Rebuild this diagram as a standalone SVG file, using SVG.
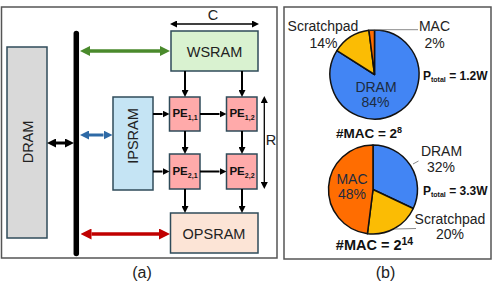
<svg xmlns="http://www.w3.org/2000/svg" width="498" height="295" viewBox="0 0 498 295">
<style>
text{font-family:"Liberation Sans",Arial,sans-serif;fill:#222}
.box{stroke:#2f4b5a;stroke-width:1.5}
.lbl{font-size:14.5px;text-anchor:middle}
.pe{font-size:11.5px;font-weight:bold;text-anchor:middle;fill:#111}
.sub{font-size:7px}
.pl{font-size:14px;text-anchor:middle}
.pin{font-size:14px;text-anchor:middle;fill:#1c2b40}
.pt{font-size:12px;font-weight:bold;fill:#111}
.mac{font-weight:bold;text-anchor:middle;fill:#111}
.wedge{stroke:#111;stroke-width:1.5;stroke-linejoin:round}
.lead{stroke:#8a8a8a;stroke-width:1;fill:none}
.panel{fill:#fff;stroke:#555;stroke-width:1.5}
</style>
<defs>
<marker id="hk" viewBox="0 0 10 10" refX="0" refY="5" markerWidth="7" markerHeight="7" markerUnits="userSpaceOnUse" orient="auto-start-reverse"><path d="M0,0L10,5L0,10z" fill="#000"/></marker>
<marker id="hkb" viewBox="0 0 10 10" refX="0" refY="5" markerWidth="9" markerHeight="9" markerUnits="userSpaceOnUse" orient="auto-start-reverse"><path d="M0,0L10,5L0,10z" fill="#000"/></marker>
<marker id="hg" viewBox="0 0 10 10" refX="0" refY="5" markerWidth="10" markerHeight="10" markerUnits="userSpaceOnUse" orient="auto-start-reverse"><path d="M0,0L10,5L0,10z" fill="#4a8a2c"/></marker>
<marker id="hb" viewBox="0 0 10 10" refX="0" refY="5" markerWidth="9" markerHeight="9" markerUnits="userSpaceOnUse" orient="auto-start-reverse"><path d="M0,0L10,5L0,10z" fill="#2e6aa6"/></marker>
<marker id="hr" viewBox="0 0 10 10" refX="0" refY="5" markerWidth="11" markerHeight="11" markerUnits="userSpaceOnUse" orient="auto-start-reverse"><path d="M0,0L10,5L0,10z" fill="#c00000"/></marker>
</defs>
<rect width="498" height="295" fill="#fff"/>
<rect class="panel" x="1.5" y="7" width="275.5" height="251"/>
<rect class="panel" x="284" y="7" width="207" height="252"/>

<g id="dram"><rect class="box" x="7" y="47" width="40" height="191" fill="#d9d9d9"/><text class="lbl" transform="translate(33,142) rotate(-90)">DRAM</text></g>
<g id="bus"><line x1="76.3" y1="33.5" x2="76.3" y2="253.5" stroke="#000" stroke-width="5.5" stroke-linecap="round"/></g>
<g id="wsram"><rect class="box" x="171" y="31" width="87" height="40" fill="#d9f2d0"/><text class="lbl" x="214.5" y="56.5">WSRAM</text></g>
<g id="ipsram"><rect class="box" x="113" y="97" width="40" height="93" fill="#c5e4f4"/><text class="lbl" transform="translate(137.5,136) rotate(-90)">IPSRAM</text></g>
<g id="pe11"><rect class="box" x="169.5" y="97" width="30.5" height="34" fill="#ffaaaa"/><text class="pe" x="185" y="117">PE<tspan class="sub" dy="2.5">1,1</tspan></text></g>
<g id="pe12"><rect class="box" x="226.5" y="97" width="30.5" height="34" fill="#ffaaaa"/><text class="pe" x="242" y="117">PE<tspan class="sub" dy="2.5">1,2</tspan></text></g>
<g id="pe21"><rect class="box" x="169.5" y="154" width="30.5" height="35" fill="#ffaaaa"/><text class="pe" x="185" y="175">PE<tspan class="sub" dy="2.5">2,1</tspan></text></g>
<g id="pe22"><rect class="box" x="226.5" y="154" width="30.5" height="35" fill="#ffaaaa"/><text class="pe" x="242" y="175">PE<tspan class="sub" dy="2.5">2,2</tspan></text></g>
<g id="opsram"><rect class="box" x="170.5" y="213" width="87.5" height="40" fill="#fce4d6"/><text class="lbl" x="214" y="238.5">OPSRAM</text></g>

<g id="connectors">
<line x1="56" y1="143" x2="65" y2="143" stroke="#000" stroke-width="3" marker-start="url(#hkb)" marker-end="url(#hkb)"/>
<line x1="90" y1="51" x2="160" y2="51" stroke="#4a8a2c" stroke-width="3.5" marker-start="url(#hg)" marker-end="url(#hg)"/>
<line x1="89" y1="135" x2="103.5" y2="135" stroke="#2e6aa6" stroke-width="3" marker-start="url(#hb)" marker-end="url(#hb)"/>
<line x1="91.5" y1="234" x2="159" y2="234" stroke="#c00000" stroke-width="3.5" marker-start="url(#hr)" marker-end="url(#hr)"/>
<g stroke="#000" stroke-width="2">
<line x1="185" y1="71" x2="185" y2="90" marker-end="url(#hk)"/>
<line x1="242" y1="71" x2="242" y2="90" marker-end="url(#hk)"/>
<line x1="185" y1="131" x2="185" y2="147" marker-end="url(#hk)"/>
<line x1="242" y1="131" x2="242" y2="147" marker-end="url(#hk)"/>
<line x1="185" y1="189" x2="185" y2="206" marker-end="url(#hk)"/>
<line x1="242" y1="189" x2="242" y2="206" marker-end="url(#hk)"/>
<line x1="153" y1="114" x2="162.5" y2="114" marker-end="url(#hk)"/>
<line x1="200" y1="114" x2="219.5" y2="114" marker-end="url(#hk)"/>
<line x1="153" y1="171.5" x2="162.5" y2="171.5" marker-end="url(#hk)"/>
<line x1="200" y1="171.5" x2="219.5" y2="171.5" marker-end="url(#hk)"/>
</g>
<g stroke="#000" stroke-width="1.3">
<line x1="177" y1="24" x2="252" y2="24" marker-start="url(#hk)" marker-end="url(#hk)"/>
<line x1="264.3" y1="103" x2="264.3" y2="182" marker-start="url(#hk)" marker-end="url(#hk)"/>
</g>
</g>
<text class="lbl" x="213" y="19.5">C</text>
<text class="lbl" x="271" y="145">R</text>

<g id="pie1">
<path class="wedge" d="M374.5,74.5L374.5,30A44.5,44.5 0 1 1 336.93,50.66Z" fill="#4285f4"/>
<path class="wedge" d="M374.5,74.5L336.93,50.66A44.5,44.5 0 0 1 368.92,30.35Z" fill="#fbbc04"/>
<path class="wedge" d="M374.5,74.5L368.92,30.35A44.5,44.5 0 0 1 374.5,30Z" fill="#ff6d01"/>
<line class="lead" x1="369" y1="29.7" x2="418" y2="29.7"/>
<text class="pl" x="323" y="31">Scratchpad</text>
<text class="pl" x="323.5" y="48">14%</text>
<text class="pl" x="434.5" y="31">MAC</text>
<text class="pl" x="434.5" y="48">2%</text>
<text class="pin" x="376" y="92">DRAM</text>
<text class="pin" x="375.5" y="107">84%</text>
<text class="pt" x="423" y="80">P<tspan font-size="7" dy="2">total</tspan><tspan dy="-2"> = 1.2W</tspan></text>
<text class="mac" x="369" y="138" font-size="13.5">#MAC = 2<tspan font-size="9" dy="-5">8</tspan></text>
</g>

<g id="pie2">
<path class="wedge" d="M373,189.5L373,145A44.5,44.5 0 0 1 413.26,208.45Z" fill="#4285f4"/>
<path class="wedge" d="M373,189.5L413.26,208.45A44.5,44.5 0 0 1 367.42,233.65Z" fill="#fbbc04"/>
<path class="wedge" d="M373,189.5L367.42,233.65A44.5,44.5 0 0 1 373,145Z" fill="#ff6d01"/>
<line class="lead" x1="413" y1="164" x2="418.5" y2="161"/>
<line class="lead" x1="395" y1="229" x2="416" y2="228.5"/>
<text class="pl" x="441.5" y="156">DRAM</text>
<text class="pl" x="441" y="171.5">32%</text>
<text class="pl" x="450" y="223.5">Scratchpad</text>
<text class="pl" x="450" y="239">20%</text>
<text class="pin" x="352" y="183.5">MAC</text>
<text class="pin" x="352" y="199">48%</text>
<text class="pt" x="423" y="194.5">P<tspan font-size="7" dy="2">total</tspan><tspan dy="-2"> = 3.3W</tspan></text>
<text class="mac" x="374.5" y="250" font-size="14.5">#MAC = 2<tspan font-size="10.5" dy="-5.5">14</tspan></text>
</g>

<text x="142" y="278" font-size="16" text-anchor="middle">(a)</text>
<text x="385.5" y="278" font-size="16" text-anchor="middle">(b)</text>
</svg>
